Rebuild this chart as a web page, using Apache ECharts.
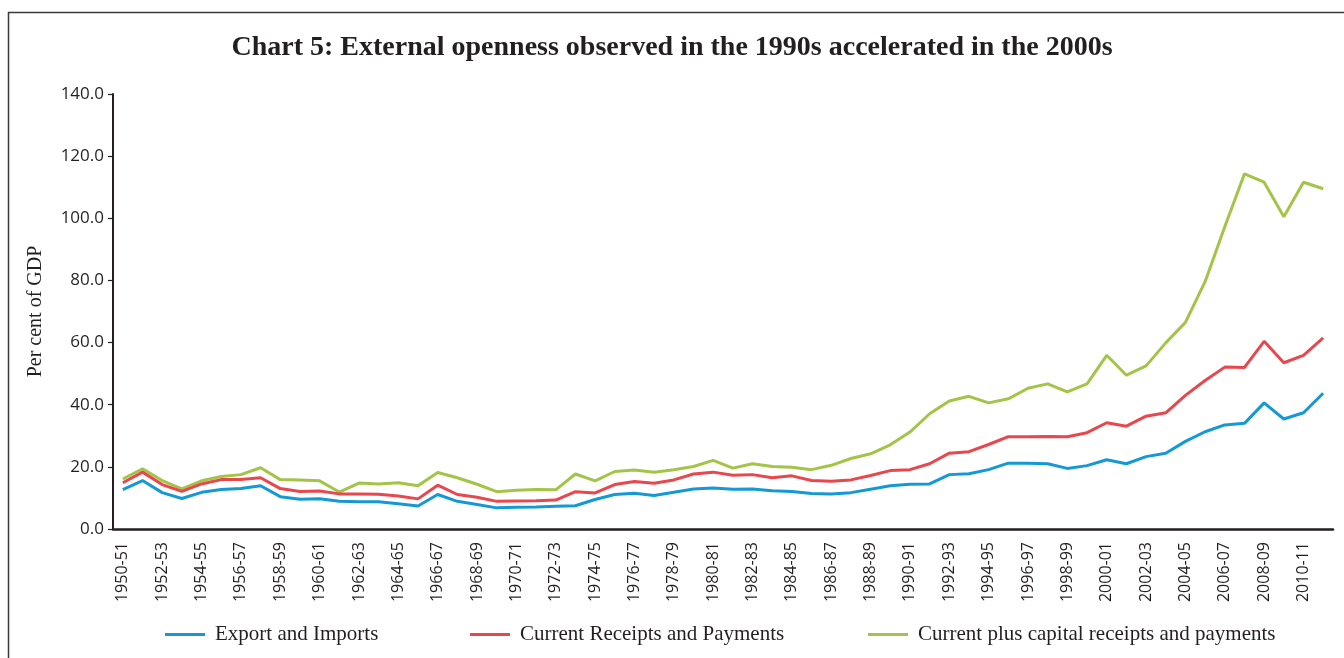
<!DOCTYPE html>
<html>
<head>
<meta charset="utf-8">
<script src="https://cdn.jsdelivr.net/npm/echarts@6/dist/echarts.min.js"></script>
<style>
    html, body { margin: 0; padding: 0; background: #fff; }
    #chart { width: 1344px; height: 658px; }
</style>
</head>
<body>
<div id="chart"></div>
<script>
var years = ['1950-51', '1951-52', '1952-53', '1953-54', '1954-55', '1955-56', '1956-57', '1957-58', '1958-59', '1959-60',
    '1960-61', '1961-62', '1962-63', '1963-64', '1964-65', '1965-66', '1966-67', '1967-68', '1968-69', '1969-70',
    '1970-71', '1971-72', '1972-73', '1973-74', '1974-75', '1975-76', '1976-77', '1977-78', '1978-79', '1979-80',
    '1980-81', '1981-82', '1982-83', '1983-84', '1984-85', '1985-86', '1986-87', '1987-88', '1988-89', '1989-90',
    '1990-91', '1991-92', '1992-93', '1993-94', '1994-95', '1995-96', '1996-97', '1997-98', '1998-99', '1999-00',
    '2000-01', '2001-02', '2002-03', '2003-04', '2004-05', '2005-06', '2006-07', '2007-08', '2008-09', '2009-10',
    '2010-11', '2011-12'];

var exportImports = [12.7, 15.6, 11.7, 9.8, 11.8, 12.7, 13.0, 13.9, 10.4, 9.6,
    9.7, 8.9, 8.8, 8.8, 8.1, 7.4, 11.1, 8.9, 7.9, 6.8,
    7.0, 7.1, 7.3, 7.5, 9.5, 11.1, 11.5, 10.8, 11.8, 12.9,
    13.2, 12.8, 12.9, 12.3, 12.1, 11.4, 11.3, 11.7, 12.8, 13.9,
    14.4, 14.5, 17.5, 17.8, 19.1, 21.2, 21.2, 21.0, 19.5, 20.4,
    22.3, 21.0, 23.3, 24.4, 28.2, 31.3, 33.5, 34.0, 40.6, 35.4,
    37.4, 43.7];

var currentAccount = [14.9, 18.3, 14.3, 12.1, 14.5, 15.9, 15.9, 16.5, 13.0, 12.1,
    12.2, 11.3, 11.3, 11.2, 10.6, 9.7, 14.1, 11.1, 10.2, 8.9,
    9.0, 9.1, 9.3, 12.0, 11.6, 14.3, 15.3, 14.7, 15.8, 17.7,
    18.3, 17.3, 17.5, 16.5, 17.1, 15.6, 15.4, 15.8, 17.2, 18.8,
    19.1, 21.0, 24.4, 24.9, 27.2, 29.7, 29.7, 29.8, 29.7, 31.0,
    34.2, 33.1, 36.3, 37.4, 43.0, 47.8, 52.1, 52.0, 60.4, 53.5,
    55.9, 61.5];

var currentCapital = [16.1, 19.4, 15.6, 12.9, 15.5, 16.9, 17.5, 19.7, 15.9, 15.8,
    15.5, 11.9, 14.8, 14.5, 14.9, 13.9, 18.2, 16.5, 14.4, 12.0,
    12.5, 12.7, 12.6, 17.7, 15.5, 18.5, 19.0, 18.3, 19.1, 20.1,
    22.1, 19.6, 21.0, 20.1, 19.9, 19.1, 20.5, 22.7, 24.2, 27.1,
    31.2, 37.1, 41.2, 42.7, 40.6, 41.9, 45.3, 46.7, 44.1, 46.7,
    55.9, 49.5, 52.5, 59.9, 66.5, 79.6, 97.3, 114.3, 111.6, 100.5,
    111.6, 109.5];

var yTicks = { min: 0, max: 140, step: 20 };

var names = ['Export and Imports', 'Current Receipts and Payments', 'Current plus capital receipts and payments'];
var colors = ['#1599d5', '#e8474d', '#a3c447'];

var serif = '"Liberation Serif", "DejaVu Serif", serif';
var sans = '"Open Sans", "Noto Sans", sans-serif';

function legendAt(left, name) {
    return {
        data: [name],
        left: left,
        top: 624,
        padding: 0,
        icon: 'rect',
        itemWidth: 40,
        itemHeight: 3,
        itemGap: 0,
        textStyle: { fontFamily: serif, fontSize: 21, color: '#231f20', padding: [0, 0, 0, 5] }
    };
}

var chart = echarts.init(document.getElementById('chart'));
var option = {
    backgroundColor: '#fff',
    animation: false,
    title: {
        text: 'Chart 5: External openness observed in the 1990s accelerated in the 2000s',
        left: 'center',
        top: 29,
        textStyle: { fontFamily: serif, fontSize: 28, fontWeight: 'bold', color: '#231f20' }
    },
    graphic: [
        { type: 'line', shape: { x1: 8, y1: 12.5, x2: 1344, y2: 12.5 }, style: { stroke: '#3a3a3a', lineWidth: 1.5 } },
        { type: 'line', shape: { x1: 8.5, y1: 12, x2: 8.5, y2: 658 }, style: { stroke: '#3a3a3a', lineWidth: 1.5 } }
    ],
    legend: [
        legendAt(165, names[0]),
        legendAt(470, names[1]),
        legendAt(868, names[2])
    ],
    grid: { left: 113, right: 11, top: 94, bottom: 129 },
    xAxis: {
        type: 'category',
        data: years,
        boundaryGap: true,
        axisLine: { lineStyle: { color: '#231f20', width: 2.5 } },
        axisTick: { interval: 0, length: 6, alignWithLabel: false, lineStyle: { color: '#231f20', width: 1.2 } },
        axisLabel: { interval: 1, rotate: 90, margin: 13, fontFamily: sans, fontSize: 16, color: '#231f20' }
    },
    yAxis: {
        type: 'value',
        min: yTicks.min,
        max: yTicks.max,
        interval: yTicks.step,
        name: 'Per cent of GDP',
        nameLocation: 'middle',
        nameGap: 67,
        nameTextStyle: { fontFamily: serif, fontSize: 20, color: '#231f20' },
        axisLine: { show: true, lineStyle: { color: '#231f20', width: 2 } },
        axisTick: { show: true, length: 5, lineStyle: { color: '#231f20', width: 1.2 } },
        splitLine: { show: false },
        axisLabel: {
            margin: 9,
            fontFamily: sans,
            fontSize: 17,
            color: '#231f20',
            formatter: function (v) { return v.toFixed(1); }
        }
    },
    series: [
        { name: names[2], type: 'line', data: currentCapital, showSymbol: false, lineStyle: { color: colors[2], width: 3 }, itemStyle: { color: colors[2] } },
        { name: names[1], type: 'line', data: currentAccount, showSymbol: false, lineStyle: { color: colors[1], width: 3 }, itemStyle: { color: colors[1] } },
        { name: names[0], type: 'line', data: exportImports, showSymbol: false, lineStyle: { color: colors[0], width: 3 }, itemStyle: { color: colors[0] } }
    ]
};
chart.setOption(option);
</script>
</body>
</html>
